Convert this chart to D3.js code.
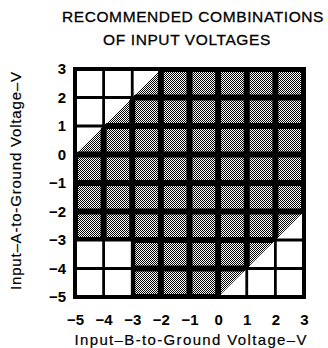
<!DOCTYPE html>
<html><head><meta charset="utf-8">
<script src="https://cdn.jsdelivr.net/npm/d3@7"></script>
<style>body{margin:0;background:#fff}svg{display:block}</style>
</head><body>
<svg id="c" width="328" height="348"></svg>
<script>
const titleLines = ["RECOMMENDED COMBINATIONS", "OF INPUT VOLTAGES"];
const xTicks = [-5, -4, -3, -2, -1, 0, 1, 2, 3];
const yTicks = [3, 2, 1, 0, -1, -2, -3, -4, -5];
const xLabel = "Input\u2013B-to-Ground Voltage\u2013V";
const yLabel = "Input\u2013A-to-Ground Voltage\u2013V";
// recommended region boundary, (B, A) voltages
const regionB = [-5, -5, -2, 3, 3, 0, -3, -3];
const regionA = [-3, 0, 3, 3, -2, -5, -5, -3];

const FONT = "Liberation Sans, Arial, Helvetica, sans-serif";
const svg = d3.select("#c");
const x = d3.scaleLinear().domain([-5, 3]).range([75, 304]);
const y = d3.scaleLinear().domain([3, -5]).range([69, 297]);

const defs = svg.append("defs");
const pat = defs.append("pattern").attr("id", "stip").attr("width", 2).attr("height", 2)
  .attr("patternUnits", "userSpaceOnUse");
pat.append("rect").attr("width", 2).attr("height", 2).attr("fill", "#fff");
pat.append("rect").attr("x", 0).attr("y", 0).attr("width", 1).attr("height", 1).attr("fill", "#000");
pat.append("rect").attr("x", 1).attr("y", 1).attr("width", 1).attr("height", 1).attr("fill", "#000");

const pts = regionB.map((b, i) => [x(b), y(regionA[i])]);
const ptStr = pts.map(p => p.join(",")).join(" ");
defs.append("clipPath").attr("id", "reg").append("polygon").attr("points", ptStr);

svg.append("polygon").attr("points", ptStr).attr("fill", "url(#stip)");

// thick grid inside shaded region
const gThick = svg.append("g").attr("clip-path", "url(#reg)");
xTicks.forEach(v => gThick.append("line").attr("x1", x(v)).attr("x2", x(v)).attr("y1", y(3)).attr("y2", y(-5))
  .attr("stroke", "#000").attr("stroke-width", 6));
yTicks.forEach(v => gThick.append("line").attr("y1", y(v)).attr("y2", y(v)).attr("x1", x(-5)).attr("x2", x(3))
  .attr("stroke", "#000").attr("stroke-width", 6));

// thin grid everywhere
const g = svg.append("g");
xTicks.forEach(v => g.append("line").attr("x1", x(v)).attr("x2", x(v)).attr("y1", y(3)).attr("y2", y(-5))
  .attr("stroke", "#000").attr("stroke-width", 2.8));
yTicks.forEach(v => g.append("line").attr("y1", y(v)).attr("y2", y(v)).attr("x1", x(-5)).attr("x2", x(3))
  .attr("stroke", "#000").attr("stroke-width", 2.8));
svg.append("rect").attr("x", x(-5)).attr("y", y(3)).attr("width", x(3) - x(-5)).attr("height", y(-5) - y(3))
  .attr("fill", "none").attr("stroke", "#000").attr("stroke-width", 4);

// axes (labels only)
const fmt = d => d < 0 ? "\u2212" + Math.abs(d) : String(d);
const xAxis = svg.append("g").attr("transform", `translate(0,${y(-5)})`)
  .call(d3.axisBottom(x).tickValues(xTicks).tickFormat(fmt).tickSize(0).tickPadding(17));
const yAxis = svg.append("g").attr("transform", `translate(${x(-5)},0)`)
  .call(d3.axisLeft(y).tickValues(yTicks).tickFormat(fmt).tickSize(0).tickPadding(9));
[xAxis, yAxis].forEach(a => {
  a.select(".domain").remove();
  a.selectAll("text").attr("font-family", FONT)
    .attr("font-size", 15).attr("font-weight", "bold").attr("fill", "#000");
});

svg.append("g").selectAll("text").data(titleLines).join("text")
  .attr("x", (d, i) => i ? 187 : 193).attr("y", (d, i) => 22 + i * 23).attr("text-anchor", "middle")
  .attr("font-family", FONT).attr("font-size", 15.5).attr("letter-spacing", 0.6)
  .attr("fill", "#000").attr("stroke", "#000").attr("stroke-width", 0.3).text(d => d);

svg.append("text").attr("x", 190.5).attr("y", 345).attr("text-anchor", "middle")
  .attr("font-family", FONT).attr("font-size", 15)
  .attr("textLength", 232).attr("lengthAdjust", "spacing")
  .attr("fill", "#000").attr("stroke", "#000").attr("stroke-width", 0.2).text(xLabel);
svg.append("text").attr("transform", "translate(21,181) rotate(-90)").attr("text-anchor", "middle")
  .attr("font-family", FONT).attr("font-size", 15)
  .attr("textLength", 218).attr("lengthAdjust", "spacing")
  .attr("fill", "#000").attr("stroke", "#000").attr("stroke-width", 0.2).text(yLabel);
</script>
</body></html>
